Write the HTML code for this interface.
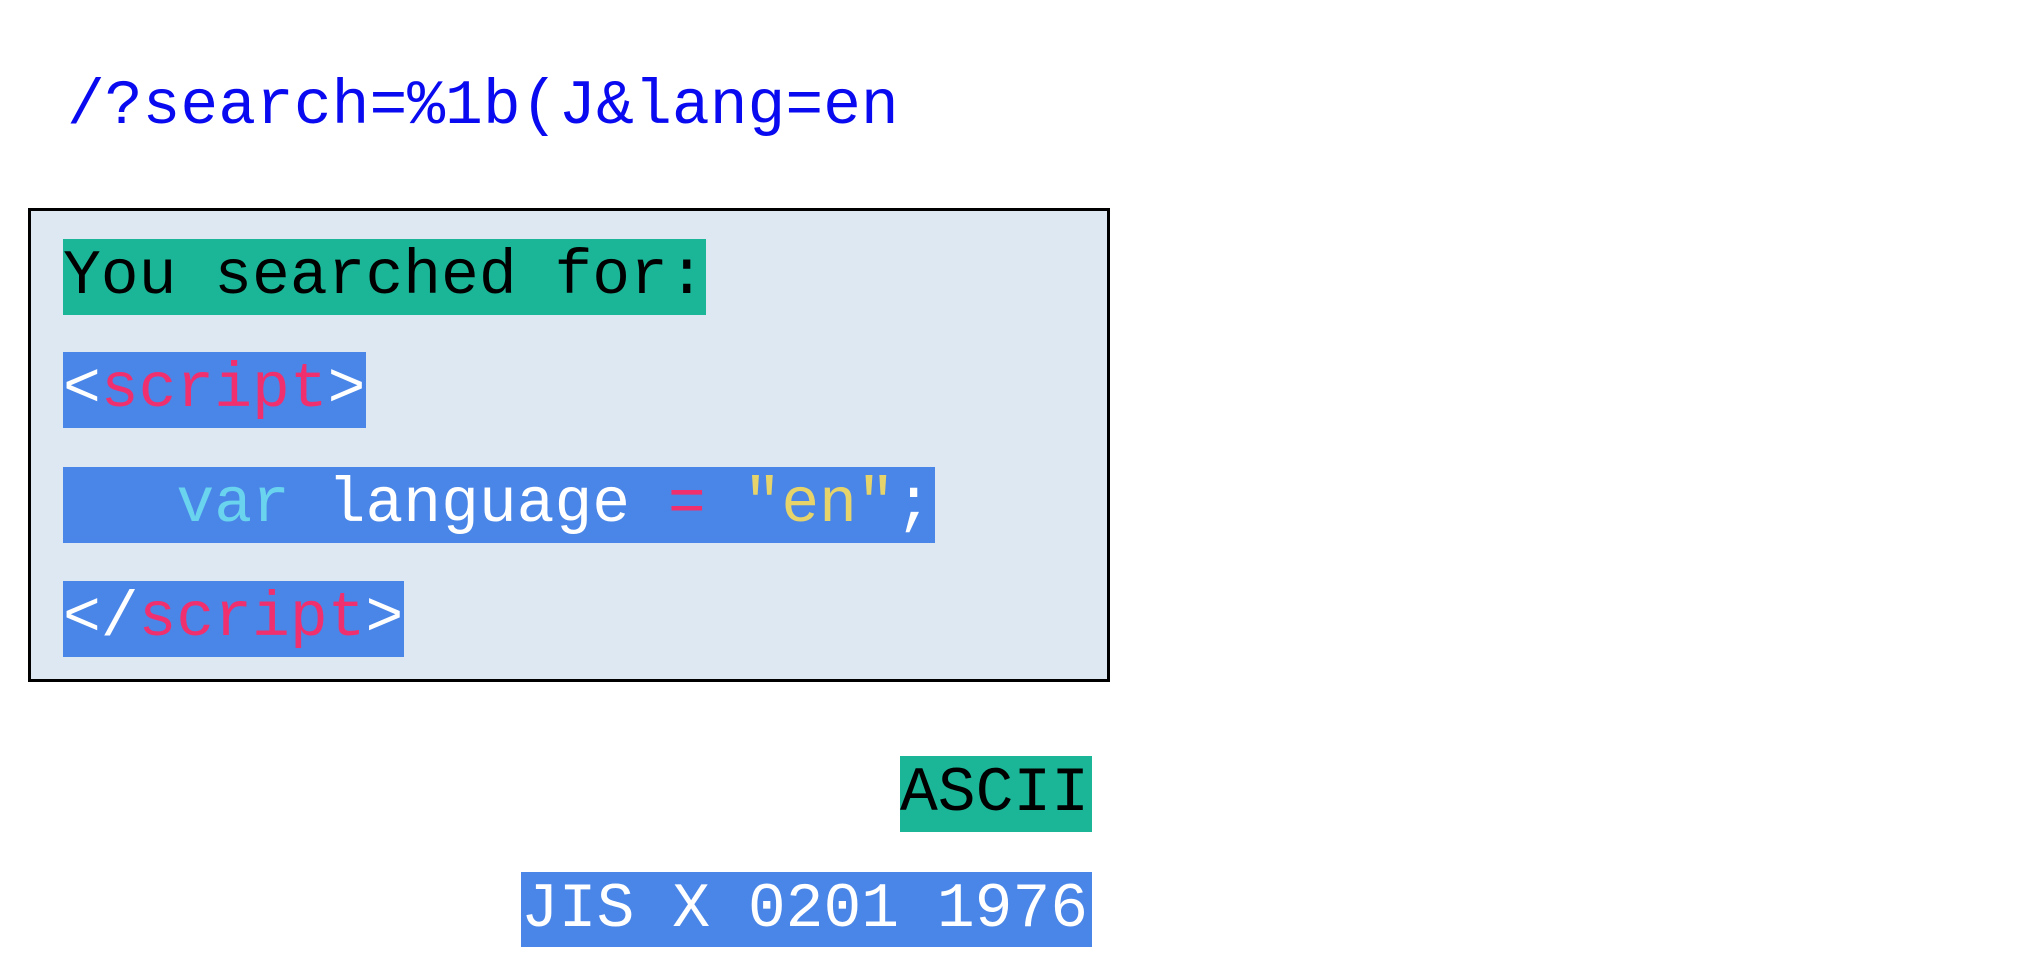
<!DOCTYPE html>
<html><head><meta charset="utf-8"><style>
html,body{margin:0;padding:0;background:#fff;width:2024px;height:977px;overflow:hidden;position:relative}
.t{position:absolute;font-family:"Liberation Mono","DejaVu Sans Mono",monospace;font-size:63px;line-height:76px;height:76px;white-space:pre;color:#fff}
.t span.i{position:relative;top:0px}
.g{background:#1bb697;color:#000}
.b{background:#4a86e8}
.r{color:#f0306e}.c{color:#6ad4ee}.y{color:#e6d46a}
#box{position:absolute;left:28px;top:208px;width:1076px;height:468px;border:3px solid #000;background:#dee8f3}
</style></head><body>
<div class="t" style="left:67px;top:69px;color:#0a0af0"><span class="i">/?search=%1b(J&amp;lang=en</span></div>
<div id="box"></div>
<div class="t g" style="left:63px;top:239px"><span class="i">You searched for:</span></div>
<div class="t b" style="left:63px;top:352px;width:303px"><span class="i">&lt;<span class="r">script</span>&gt;</span></div>
<div class="t b" style="left:63px;top:467px;width:872px"><span class="i">   <span class="c">var</span> language <span class="r">=</span> <span class="y">"en"</span>;</span></div>
<div class="t b" style="left:63px;top:581px;width:341px"><span class="i">&lt;/<span class="r">script</span>&gt;</span></div>
<div class="t g" style="left:900px;top:756px;width:192px"><span class="i">ASCII</span></div>
<div class="t b" style="left:521px;top:872px;width:571px;height:75px"><span class="i">JIS X 0201 1976</span></div>
</body></html>
